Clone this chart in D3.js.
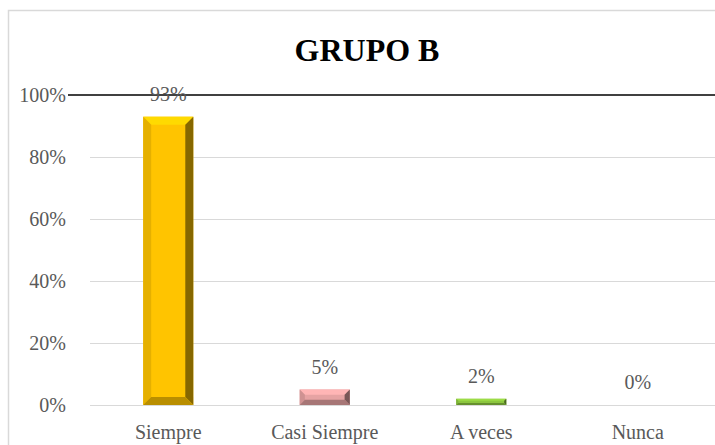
<!DOCTYPE html>
<html>
<head>
<meta charset="utf-8">
<script src="https://cdn.jsdelivr.net/npm/d3@7"></script>
<style>
  body { margin: 0; background: #fff; }
</style>
</head>
<body>
<div id="chart"></div>
<script>
const categories = ['Siempre', 'Casi Siempre', 'A veces', 'Nunca'];
const values = [93, 5, 2, 0];
const yTicks = [0, 20, 40, 60, 80, 100];
const colors = ['#FFC400', '#E6A3A3', '#8CC63F', '#4472C4'];

const w = 715;
const h = 445;
const serif = "'Liberation Serif', 'DejaVu Serif', serif";

const svg = d3.select('#chart')
  .append('svg')
  .attr('width', w)
  .attr('height', h)
  .attr('font-family', serif);

// chart frame (runs off the right and bottom of the picture)
svg.append('rect')
  .attr('x', 8.5)
  .attr('y', 10.5)
  .attr('width', 760)
  .attr('height', 500)
  .attr('fill', 'none')
  .attr('stroke', '#d9d9d9')
  .attr('stroke-width', 1.5);

const xScale = d3.scaleBand()
  .domain(categories)
  .range([90, 716])
  .paddingInner(0.68)
  .paddingOuter(0.34);

const yScale = d3.scaleLinear()
  .domain([0, 100])
  .range([405, 95]);

// gridlines
svg.append('g')
  .selectAll('line')
  .data(yTicks.filter(t => t < 100))
  .enter()
  .append('line')
  .attr('x1', 90)
  .attr('x2', w)
  .attr('y1', d => Math.round(yScale(d)) + 0.5)
  .attr('y2', d => Math.round(yScale(d)) + 0.5)
  .attr('stroke', '#d9d9d9')
  .attr('stroke-width', 1.2);

// dark 100% line
svg.append('line')
  .attr('x1', 68)
  .attr('x2', w)
  .attr('y1', yScale(100))
  .attr('y2', yScale(100))
  .attr('stroke', '#404040')
  .attr('stroke-width', 2);

// y axis labels
const yAxis = d3.axisLeft(yScale)
  .tickValues(yTicks)
  .tickFormat(d => d + '%')
  .tickSize(0)
  .tickPadding(0);

const yG = svg.append('g')
  .attr('transform', 'translate(66,0)')
  .call(yAxis)
  .attr('font-family', serif);
yG.select('.domain').remove();
yG.selectAll('text')
  .attr('font-family', serif)
  .attr('font-size', 20)
  .attr('fill', '#595959')
  .attr('dy', '0.34em');

// x axis labels
const xAxis = d3.axisBottom(xScale).tickSize(0).tickPadding(0);
const xG = svg.append('g')
  .attr('transform', 'translate(0,439)')
  .call(xAxis)
  .attr('font-family', serif);
xG.select('.domain').remove();
xG.selectAll('text')
  .attr('font-family', serif)
  .attr('font-size', 20)
  .attr('fill', '#595959')
  .attr('dy', 0);

// bevelled bars
const shade = (c, k) => d3.color(c).darker(k).formatHex();
const light = (c, k) => d3.color(c).brighter(k).formatHex();

values.forEach((d, idx) => {
  if (d <= 0) return;
  const c = colors[idx];
  const x0 = xScale(categories[idx]);
  const x1 = x0 + xScale.bandwidth();
  const y0 = yScale(d);
  const y1 = yScale(0);
  const b = Math.min(8, (y1 - y0) / 3, (x1 - x0) / 4);
  const g = svg.append('g');
  g.append('rect')
    .attr('x', x0).attr('y', y0)
    .attr('width', x1 - x0).attr('height', y1 - y0)
    .attr('fill', c);
  const pts = (arr) => arr.map(p => p.join(',')).join(' ');
  // top
  g.append('polygon')
    .attr('points', pts([[x0, y0], [x1, y0], [x1 - b, y0 + b], [x0 + b, y0 + b]]))
    .attr('fill', light(c, 0.3));
  // left
  g.append('polygon')
    .attr('points', pts([[x0, y0], [x0 + b, y0 + b], [x0 + b, y1 - b], [x0, y1]]))
    .attr('fill', shade(c, 0.3));
  // right
  g.append('polygon')
    .attr('points', pts([[x1, y0], [x1 - b, y0 + b], [x1 - b, y1 - b], [x1, y1]]))
    .attr('fill', shade(c, 1.8));
  // bottom
  g.append('polygon')
    .attr('points', pts([[x0, y1], [x0 + b, y1 - b], [x1 - b, y1 - b], [x1, y1]]))
    .attr('fill', shade(c, 0.9));
});

// data labels
svg.append('g')
  .selectAll('text')
  .data(values)
  .enter()
  .append('text')
  .attr('x', (d, i) => xScale(categories[i]) + xScale.bandwidth() / 2)
  .attr('y', d => yScale(d) - 16)
  .attr('text-anchor', 'middle')
  .attr('font-family', serif)
  .attr('font-size', 20)
  .attr('fill', '#595959')
  .text(d => d + '%');

// title
svg.append('text')
  .attr('x', 367)
  .attr('y', 61)
  .attr('text-anchor', 'middle')
  .attr('font-family', serif)
  .attr('font-size', 32)
  .attr('font-weight', 'bold')
  .attr('fill', '#000')
  .text('GRUPO B');
</script>
</body>
</html>
